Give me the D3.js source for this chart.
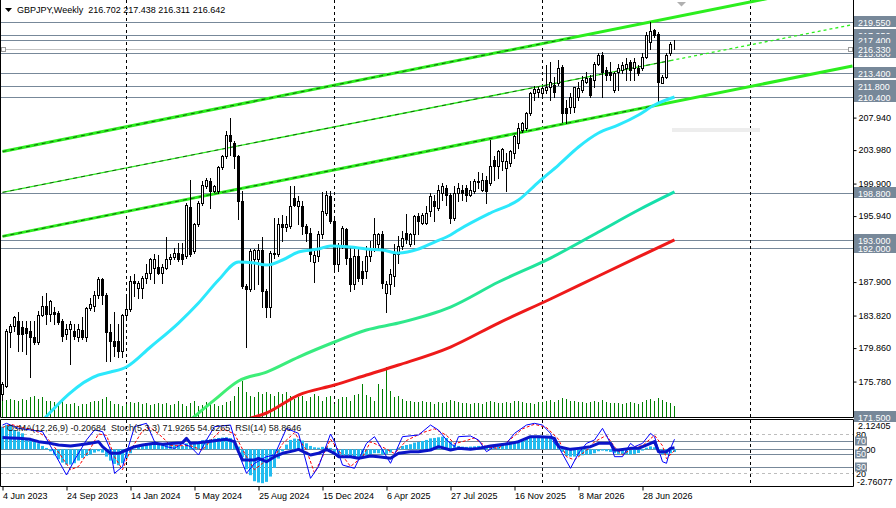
<!DOCTYPE html>
<html>
<head>
<meta charset="utf-8">
<title>GBPJPY,Weekly</title>
<script src="https://cdnjs.cloudflare.com/ajax/libs/d3/7.8.5/d3.min.js"></script>
<style>
  html, body { margin: 0; padding: 0; background: #fff; overflow: hidden; }
  svg { display: block; font-family: "Liberation Sans", Arial, sans-serif; }
</style>
</head>
<body>
<script>
// weekly candles, bar 0 = week of 4 Jun 2023
var opens = [
  174.21,175.30,181.77,182.58,183.19,182.38,182.30,181.98,181.17,180.56,
  183.92,185.01,184.00,184.20,184.08,183.19,181.57,182.18,181.98,181.17,
  182.06,181.17,184.73,185.01,186.34,188.25,186.34,181.77,180.76,180.76,
  179.55,183.92,184.61,188.04,187.23,187.15,188.37,189.06,189.66,189.74,
  189.06,189.66,190.67,190.96,191.48,191.28,191.08,197.02,191.68,194.92,
  197.55,199.57,200.18,198.96,198.96,201.88,203.21,205.84,204.83,203.21,
  197.75,187.44,187.03,190.67,190.67,191.76,186.83,184.81,191.48,191.28,
  195.00,194.60,194.72,198.16,197.14,197.14,194.72,193.91,190.39,191.08,
  193.71,196.34,198.36,195.32,190.07,192.29,194.39,190.88,187.64,191.08,
  189.26,189.26,191.08,192.09,192.49,193.71,186.63,187.64,188.65,191.28,
  192.29,193.91,192.49,193.71,195.93,195.12,195.12,196.54,197.75,196.94,
  198.76,199.37,198.56,195.73,198.76,199.16,199.37,198.56,198.96,200.05,
  199.16,200.38,199.97,202.80,202.00,202.60,201.79,202.40,203.61,204.83,
  206.44,206.65,208.47,210.89,211.10,210.89,211.30,211.62,211.91,212.11,
  214.13,209.07,209.28,209.28,210.49,211.30,212.31,212.71,212.51,214.53,
  215.55,213.73,213.52,211.30,213.52,213.73,213.93,214.74,213.93,213.93,
  213.93,215.34,217.20,218.58,218.18,212.11,212.92,215.75,216.702
];
var highs = [
  175.70,182.18,182.79,183.80,184.20,183.19,183.19,183.19,183.19,184.40,
  186.22,186.63,185.70,184.81,184.40,183.39,182.79,183.19,182.79,182.79,
  183.59,184.85,186.02,186.83,188.53,188.45,186.63,182.79,184.20,182.79,
  184.00,186.22,188.65,188.85,188.04,188.65,190.07,190.88,191.28,191.16,
  190.07,193.38,191.28,192.09,192.70,192.70,197.55,200.38,195.12,197.75,
  200.18,200.58,200.58,199.77,202.00,203.41,206.25,207.94,205.03,203.41,
  198.96,187.64,191.89,191.89,192.49,193.38,187.03,191.68,195.73,195.73,
  196.13,195.93,199.65,199.65,198.36,197.75,194.92,194.52,191.68,194.11,
  198.84,198.96,198.96,195.53,192.70,194.72,194.52,192.09,192.09,192.09,
  190.47,192.29,192.90,195.73,193.91,194.11,188.04,189.46,192.49,193.50,
  194.11,196.21,193.91,196.13,196.34,196.34,197.14,198.76,198.56,199.77,
  199.97,199.77,198.76,199.57,199.97,199.77,199.77,200.17,200.46,201.27,
  201.19,200.78,205.23,203.21,204.02,204.22,203.61,204.02,205.84,207.25,
  207.46,208.67,211.10,211.78,211.62,211.78,214.33,214.74,212.92,214.94,
  214.33,210.09,210.89,211.70,212.31,213.00,213.52,213.12,214.74,215.75,
  215.95,214.13,214.74,213.52,214.53,214.74,215.14,214.94,215.14,214.33,
  215.75,218.38,219.60,218.78,218.38,213.12,215.75,217.16,217.438
];
var lows = [
  173.48,175.10,179.95,181.98,179.55,179.55,179.14,176.31,180.36,180.36,
  183.80,182.79,183.19,182.79,182.79,180.76,180.96,177.93,180.96,180.76,
  180.96,180.76,184.48,184.40,186.02,185.21,178.34,178.34,178.94,178.74,
  178.74,183.59,184.40,186.22,186.02,186.02,187.84,188.25,187.84,188.93,
  187.84,189.50,190.07,190.67,190.47,190.07,190.88,191.08,191.48,194.72,
  197.35,199.37,196.94,198.90,198.76,201.72,203.01,203.41,201.80,195.53,
  187.23,179.95,186.83,187.03,187.64,184.81,183.59,183.59,190.88,191.08,
  192.90,194.11,194.52,197.14,194.92,193.71,192.90,190.47,187.96,190.47,
  193.30,196.13,195.12,189.26,189.26,192.09,190.07,186.83,187.03,188.04,
  187.64,188.45,190.47,191.68,192.09,187.23,184.20,186.43,187.44,190.27,
  191.89,192.70,192.29,192.49,193.71,194.92,194.92,195.93,195.32,196.74,
  197.95,197.34,195.12,195.52,197.75,197.95,197.75,198.35,198.76,199.37,
  198.96,197.55,199.77,200.38,200.58,201.59,198.96,202.00,203.01,204.22,
  206.24,206.44,208.27,210.09,210.49,210.69,210.89,210.09,210.49,211.91,
  207.46,207.25,208.47,208.67,210.09,211.10,212.11,210.49,211.70,214.33,
  210.49,212.51,212.51,211.10,211.30,213.32,212.51,212.51,212.51,213.12,
  213.73,215.14,216.35,217.77,209.88,212.11,212.71,215.55,216.311
];
var closes = [
  175.50,181.90,182.58,183.59,181.57,181.57,181.65,181.25,180.56,183.92,
  185.01,184.00,185.62,184.00,182.99,181.37,182.18,182.79,181.37,182.18,
  181.25,184.73,185.21,186.34,188.25,186.34,181.77,180.76,180.16,179.55,
  183.92,184.61,188.04,187.84,187.84,188.45,189.06,190.67,190.67,189.06,
  189.74,190.67,190.96,191.48,190.67,190.67,197.35,191.28,194.92,197.55,
  199.77,200.38,198.96,199.57,201.88,203.21,205.84,205.03,203.21,197.75,
  187.44,187.03,191.68,191.76,191.76,186.83,184.81,191.48,191.28,194.92,
  194.60,195.00,197.23,197.35,197.75,194.72,193.91,191.28,191.16,193.71,
  196.54,198.48,195.32,190.07,192.29,194.52,190.88,187.64,191.08,188.45,
  188.45,191.08,192.09,193.71,193.71,187.84,187.64,188.85,191.28,192.29,
  193.30,193.10,193.71,195.93,195.32,196.13,196.34,198.36,197.14,199.17,
  199.57,198.56,195.73,198.76,199.37,198.76,198.56,199.16,200.17,200.17,
  200.38,198.96,202.00,202.00,203.81,204.10,202.60,203.81,205.64,206.65,
  207.25,208.47,210.89,211.38,211.38,211.50,211.62,212.31,211.10,213.93,
  208.47,208.47,210.49,211.62,211.50,212.51,212.71,210.69,214.53,215.55,
  213.52,213.12,213.12,213.32,213.93,214.33,214.53,213.73,214.74,213.32,
  215.34,217.97,218.50,217.97,212.31,212.92,215.55,216.96,216.642
];
// tick volume, hundreds
var volumes = [
  177,167,177,167,160,177,167,193,210,177, 193,160,160,143,143,160,127,127,133,110,
  127,127,143,160,160,177,193,160,127,127, 110,127,143,133,143,127,133,120,127,133,
  127,133,120,127,153,127,110,133,153,110, 120,143,127,127,110,120,143,160,210,293,
  360,243,210,193,243,227,243,227,210,243, 227,243,210,177,193,210,160,193,227,210,
  160,193,210,127,177,193,200,160,220,227, 327,220,193,160,327,277,493,260,193,210,
  177,160,160,143,143,160,143,143,127,143, 140,150,170,160,150,140,135,130,140,135,
  130,150,160,145,140,135,150,140,155,160, 150,140,135,130,150,145,160,170,150,165,
  190,180,160,155,150,145,140,150,160,145, 165,150,140,135,140,130,135,145,140,130,
  150,170,175,160,190,165,150,140,110
];

// moving averages: [bar, price]
var maFast = [[9,170.5],[24,176.58],[27,176.94],[31,177.56],[37,179.99],[44,182.91],[49,185.35],
  [54,188.15],[59,190.35],[63,190.23],[66,189.98],[70,190.59],[74,191.57],[79,191.93],[82,192.30],
  [87,192.17],[91,191.93],[95,191.81],[99,191.44],[104,191.93],[108,192.78],[112,193.64],[114,194.25],
  [122,196.32],[129,197.90],[134,200.09],[139,202.16],[144,204.36],[149,206.06],[154,207.04],
  [159,208.26],[163,209.47],[168,210.45]];
var maMid = [[46,170.7],[53,173.54],[59,175.85],[66,176.94],[74,178.77],[83,180.60],[91,182.06],
  [99,182.91],[112,184.86],[124,187.91],[137,190.83],[149,194.00],[159,196.68],[168,198.88]];
var maSlow = [[61,171.2],[66,171.95],[74,174.14],[83,175.36],[91,176.58],[99,177.80],[112,179.99],
  [124,182.91],[137,185.84],[149,188.64],[159,190.96],[168,193.03]];

// channel lines: [bar0, price0, bar1, price1, dashed overlay until bar]
var channelUpper = [0, 203.80, 212.5, 224.52, 142];
var channelMid = [0, 198.83, 212.5, 219.26, 167];
var channelLower = [0, 193.47, 212.5, 214.23, 162];

// horizontal levels (label drawing order)
var levels = [171.5, 192.0, 193.0, 198.8, 210.4, 211.8, 213.4, 219.55, 217.95, 215.8, 217.4, 216.33];
var priceTicks = [175.78, 179.86, 183.82, 187.90, 191.86, 195.94, 199.90, 203.98, 207.94, 211.90, 215.98, 220.06];

var timeTicks = [0, 16, 32, 48, 64, 80, 96, 112, 128, 144, 160];
var timeLabels = ['4 Jun 2023', '24 Sep 2023', '14 Jan 2024', '5 May 2024', '25 Aug 2024', '15 Dec 2024',
  '6 Apr 2025', '27 Jul 2025', '16 Nov 2025', '8 Mar 2026', '28 Jun 2026'];
var yearStarts = [31, 83, 135, 187];

// OsMA(12,26,9) histogram, one value per bar
var osma = [
  1.70,1.83,1.75,1.45,1.33,1.20,0.83,0.70,0.58,0.45, 0.25,0.10,-0.15,-0.45,-0.75,-1.00,-1.15,-1.15,-1.05,-0.85,
  -0.65,-0.50,-0.40,-0.25,-0.15,-0.25,-0.55,-0.85,-1.10,-1.20, -1.05,-0.65,-0.30,0.05,0.20,0.30,0.40,0.48,0.45,0.40,
  0.38,0.35,0.32,0.30,0.28,0.25,0.45,0.55,0.55,0.60, 0.68,0.72,0.75,0.80,0.85,0.88,0.90,0.85,0.65,0.20,
  -0.60,-1.50,-1.95,-2.40,-2.50,-2.55,-2.45,-2.05,-1.40,-0.70, -0.15,0.35,0.70,0.80,0.78,0.65,0.45,0.25,0.15,0.12,
  0.18,0.20,0.10,-0.20,-0.35,-0.45,-0.50,-0.58,-0.60,-0.58, -0.55,-0.45,-0.38,-0.30,-0.30,-0.40,-0.35,-0.25,-0.05,0.12,
  0.25,0.32,0.38,0.50,0.55,0.62,0.70,0.82,0.85,0.90, 0.95,0.85,0.55,0.35,0.25,0.20,0.18,0.20,0.22,0.25,
  0.22,0.18,0.25,0.32,0.40,0.45,0.45,0.50,0.58,0.65, 0.75,0.85,0.95,1.00,1.02,1.00,0.95,0.90,0.75,0.45,
  -0.20,-0.50,-0.55,-0.55,-0.50,-0.45,-0.40,-0.40,-0.30,-0.15, -0.10,-0.15,-0.20,-0.30,-0.35,-0.35,-0.38,-0.40,-0.35,-0.28,
  -0.10,0.12,0.22,0.15,-0.20,-0.35,-0.35,-0.30,-0.21
];
var osmaRange = [-2.76077, 2.12405];

// Stoch(5,3,3) and RSI(14), [bar, value]
var stochMain = [[0,93.8],[1,96.4],[3,91.3],[4,88.7],[7,86.2],[10,83.6],[13,50.3],[16,16.9],[18,40.0],
  [21,70.8],[23,86.2],[25,83.6],[27,55.4],[28,19.5],[30,29.7],[33,91.3],[36,96.4],[38,68.2],[41,60.5],
  [43,57.9],[45,65.6],[47,60.5],[49,47.7],[51,70.8],[53,91.3],[57,93.8],[59,50.3],[61,19.5],[63,34.9],
  [66,45.1],[68,47.7],[71,88.7],[74,81.0],[77,11.8],[79,29.7],[82,80.0],[83,68.2],[85,32.3],[88,27.2],
  [91,65.6],[93,75.9],[97,34.9],[100,75.9],[104,78.5],[107,93.8],[109,86.0],[111,70.8],[113,60.5],
  [114,75.9],[117,76.9],[119,70.8],[121,52.8],[123,60.5],[126,65.6],[128,81.0],[131,93.8],[133,96.4],
  [135,93.8],[137,81.0],[138,65.6],[139,60.5],[142,27.2],[144,50.3],[146,65.6],[148,70.8],[150,88.7],
  [152,65.6],[153,45.1],[155,45.1],[157,65.6],[158,60.5],[160,65.6],[162,81.0],[163,75.9],[165,37.4],
  [166,34.9],[167,57.9],[168,71.9]];
var stochSignal = [[0,90],[2,95],[5,90],[8,86],[11,75],[14,52],[17,25],[19,30],[22,58],[24,80],[26,78],
  [28,45],[30,25],[32,55],[35,85],[37,90],[40,75],[42,62],[45,62],[47,62],[50,55],[52,70],[55,88],[58,80],
  [61,45],[63,25],[65,35],[68,45],[70,65],[73,82],[76,55],[78,20],[80,45],[82,72],[84,55],[87,30],[90,45],
  [92,68],[95,60],[98,50],[101,70],[105,82],[108,88],[111,78],[113,65],[116,70],[118,74],[121,60],[124,58],
  [127,72],[130,88],[133,95],[136,90],[139,72],[141,45],[143,40],[146,55],[148,68],[151,78],[153,60],
  [155,48],[158,60],[160,62],[163,78],[165,62],[166,42],[168,54.6]];
var rsi = [[0,74.5],[2,74.0],[4,73.3],[7,71.8],[9,68.2],[12,65.6],[14,63.1],[17,61.5],[19,63.1],[22,65.6],
  [24,68.2],[25,60.5],[27,50.3],[29,50.3],[31,55.4],[33,60.5],[35,63.1],[38,65.6],[40,64.1],[43,65.6],
  [45,66.7],[46,73.3],[47,65.6],[49,66.7],[53,69.7],[56,71.8],[58,68.2],[59,52.8],[60,40.0],[63,40.0],
  [64,42.6],[66,37.4],[68,45.1],[70,50.3],[73,54.4],[74,56.4],[77,47.7],[79,50.3],[81,56.4],[83,50.3],
  [84,45.1],[87,45.1],[89,42.6],[92,46.2],[94,45.1],[97,42.6],[99,50.3],[102,52.8],[104,52.8],[107,55.4],
  [109,60.5],[112,55.4],[114,57.9],[117,56.4],[119,57.9],[122,61.5],[124,63.1],[127,65.6],[129,68.2],
  [132,75.9],[134,75.9],[137,74.9],[138,73.3],[139,60.5],[142,56.4],[144,57.9],[147,60.5],[149,65.6],
  [152,65.6],[153,55.4],[154,55.4],[157,57.9],[159,57.9],[162,65.6],[163,68.2],[164,52.8],[166,52.8],
  [167,57.9],[168,58.9]];
var oscLevels = [80, 70, 50, 30, 20];

var headerText = 'GBPJPY,Weekly  216.702 217.438 216.311 216.642';
var oscText = 'OsMA(12,26,9) -0.20684  Stoch(5,3,3) 71.9265 54.6265  RSI(14) 58.8646';

// crisp 1px helpers
function snapX(v) { return Math.floor(v) + 0.5; }
function snapY(v) { return Math.round(v) + 0.5; }

function ready() {
  var W = 896, H = 508, right = 853;
  var svg = d3.select('body').append('svg').attr('width', W).attr('height', H);

  var x = d3.scaleLinear().domain([-0.625, 212.625]).range([0, right]);
  var y = d3.scaleLinear().domain([171.5, 219.55]).range([416.7, 22.3]);
  var yVol = d3.scaleLinear().domain([0, 1000]).range([416.5, 316.5]);
  var yPct = d3.scaleLinear().domain([0, 100]).range([486, 421]);
  var yOsma = d3.scaleLinear().domain(osmaRange).range([486, 421]);

  var defs = svg.append('defs');
  defs.append('clipPath').attr('id', 'clipMain')
    .append('rect').attr('x', 1).attr('y', 0).attr('width', right - 1).attr('height', 417);
  defs.append('clipPath').attr('id', 'clipOsc')
    .append('rect').attr('x', 1).attr('y', 420).attr('width', right - 1).attr('height', 66);
  var grad = defs.append('linearGradient').attr('id', 'gradMid')
    .attr('gradientUnits', 'userSpaceOnUse').attr('x1', 190).attr('x2', 680).attr('y1', 0).attr('y2', 0);
  grad.append('stop').attr('offset', 0).attr('stop-color', '#44f070');
  grad.append('stop').attr('offset', 1).attr('stop-color', '#12deae');

  // ---------- main window ----------
  var main = svg.append('g').attr('clip-path', 'url(#clipMain)');

  main.selectAll('line.level').data(levels).enter().append('line')
    .attr('x1', 0).attr('x2', right)
    .attr('y1', function(d) { return snapY(y(d)); })
    .attr('y2', function(d) { return snapY(y(d)); })
    .attr('stroke', function(d) { return d === 216.33 ? '#c4c4c4' : '#778899'; });

  // markers on the light line
  [1.5, 848.5].forEach(function(px) {
    main.append('rect').attr('x', px).attr('y', snapY(y(216.33)) - 2).attr('width', 4).attr('height', 4)
      .attr('fill', '#fff').attr('stroke', '#9a9a9a');
  });

  main.selectAll('line.sep').data(yearStarts).enter().append('line')
    .attr('x1', function(d) { return snapX(x(d)); }).attr('x2', function(d) { return snapX(x(d)); })
    .attr('y1', 0).attr('y2', 417)
    .attr('stroke', '#000').attr('stroke-dasharray', '3,3');

  // faint strip right of last bar
  main.append('rect').attr('x', 672).attr('y', 128).attr('width', 88).attr('height', 4).attr('fill', '#ededed');

  // volumes
  main.selectAll('line.vol').data(volumes).enter().append('line')
    .attr('x1', function(d, i) { return snapX(x(i)); }).attr('x2', function(d, i) { return snapX(x(i)); })
    .attr('y1', 417).attr('y2', function(d) { return Math.round(yVol(d)); })
    .attr('stroke', '#008000');

  // channel
  var seg = d3.line().x(function(d) { return x(d[0]); }).y(function(d) { return y(d[1]); });
  var green = '#2cee1e';
  function channel(c, w, tail) {
    var p0 = [c[0], c[1]], p1 = [c[2], c[3]];
    var slope = (c[3] - c[1]) / (c[2] - c[0]);
    var pe = [c[4], c[1] + slope * (c[4] - c[0])];
    if (tail) {
      main.append('path').attr('d', seg([p0, pe])).attr('fill', 'none').attr('stroke', green).attr('stroke-width', w);
      main.append('path').attr('d', seg([pe, p1])).attr('fill', 'none').attr('stroke', green)
        .attr('stroke-width', w).attr('stroke-dasharray', '3,3');
    } else {
      main.append('path').attr('d', seg([p0, p1])).attr('fill', 'none').attr('stroke', green).attr('stroke-width', w);
    }
    main.append('path').attr('d', seg([p0, pe])).attr('fill', 'none').attr('stroke', '#000')
      .attr('stroke-width', 0.8).attr('stroke-dasharray', '4,4').attr('opacity', 0.75);
  }
  channel(channelUpper, 3, false);
  channel(channelMid, 1.3, true);
  channel(channelLower, 3, false);

  // candles
  var candle = main.selectAll('g.candle').data(opens).enter().append('g');
  candle.append('line')
    .attr('x1', function(d, i) { return snapX(x(i)); }).attr('x2', function(d, i) { return snapX(x(i)); })
    .attr('y1', function(d, i) { return Math.round(y(highs[i])); })
    .attr('y2', function(d, i) { return Math.round(y(lows[i])) + 1; })
    .attr('stroke', '#000');
  candle.append('rect')
    .attr('x', function(d, i) { return snapX(x(i)) - 1; })
    .attr('width', 2)
    .attr('y', function(d, i) { return Math.round(y(Math.max(d, closes[i]))) + 0.5; })
    .attr('height', function(d, i) {
      return Math.max(0, Math.round(y(Math.min(d, closes[i]))) - Math.round(y(Math.max(d, closes[i]))));
    })
    .attr('fill', function(d, i) { return closes[i] >= d ? '#fff' : '#000'; })
    .attr('stroke', '#000');

  // moving averages
  var maLine = d3.line().x(function(d) { return x(d[0]); }).y(function(d) { return y(d[1]); }).curve(d3.curveMonotoneX);
  main.append('path').attr('d', maLine(maSlow)).attr('fill', 'none').attr('stroke', '#ee1a1a').attr('stroke-width', 3);
  main.append('path').attr('d', maLine(maMid)).attr('fill', 'none').attr('stroke', 'url(#gradMid)').attr('stroke-width', 3);
  main.append('path').attr('d', maLine(maFast)).attr('fill', 'none').attr('stroke', '#2ce8fc').attr('stroke-width', 3);

  // chart shift marker
  svg.append('path').attr('d', 'M677,2L686,2L681.5,6.5Z').attr('fill', '#b0b0b0');

  // header
  svg.append('path').attr('d', 'M5,8L12,8L8.5,12Z').attr('fill', '#000');
  svg.append('text').attr('x', 17).attr('y', 13).attr('font-size', 9).style('white-space', 'pre')
    .text(headerText);

  // ---------- oscillator window ----------
  var osc = svg.append('g').attr('clip-path', 'url(#clipOsc)');

  osc.selectAll('line.olevel').data(oscLevels).enter().append('line')
    .attr('x1', 0).attr('x2', right)
    .attr('y1', function(d) { return snapY(yPct(d)); }).attr('y2', function(d) { return snapY(yPct(d)); })
    .attr('stroke', function(d) { return (d === 80 || d === 20) ? '#bdbdbd' : '#778899'; })
    .attr('stroke-dasharray', function(d) { return (d === 80 || d === 20) ? '3,3' : null; });
  osc.append('line').attr('x1', 0).attr('x2', right)
    .attr('y1', snapY(yOsma(0))).attr('y2', snapY(yOsma(0))).attr('stroke', '#778899');

  osc.selectAll('line.sep').data(yearStarts).enter().append('line')
    .attr('x1', function(d) { return snapX(x(d)); }).attr('x2', function(d) { return snapX(x(d)); })
    .attr('y1', 420).attr('y2', 486)
    .attr('stroke', '#000').attr('stroke-dasharray', '3,3');

  osc.selectAll('rect.osma').data(osma).enter().append('rect')
    .attr('x', function(d, i) { return Math.floor(x(i)) - 1; })
    .attr('width', 3)
    .attr('y', function(d) { return Math.min(yOsma(d), yOsma(0)); })
    .attr('height', function(d) { return Math.abs(yOsma(d) - yOsma(0)); })
    .attr('fill', '#22bcf0');

  var pctLine = d3.line().x(function(d) { return x(d[0]); }).y(function(d) { return yPct(d[1]); });
  osc.append('path').attr('d', pctLine(stochSignal)).attr('fill', 'none').attr('stroke', '#ff0000')
    .attr('stroke-width', 1).attr('stroke-dasharray', '3,2');
  osc.append('path').attr('d', pctLine(stochMain)).attr('fill', 'none').attr('stroke', '#0000ff').attr('stroke-width', 1);
  osc.append('path').attr('d', pctLine(rsi)).attr('fill', 'none').attr('stroke', '#0a14c8').attr('stroke-width', 3)
    .attr('stroke-linejoin', 'round');

  svg.append('text').attr('x', 7).attr('y', 431).attr('font-size', 9).attr('fill', '#111')
    .style('white-space', 'pre').text(oscText);

  // ---------- frames ----------
  var frame = svg.append('g').attr('fill', 'none').attr('stroke', '#000');
  frame.append('path').attr('d', 'M0.5,0V417.5H' + (right + 0.5) + 'V0');
  frame.append('path').attr('d', 'M0.5,419.5H' + (right + 0.5) + 'V486.5H0.5Z');

  // ---------- axes ----------
  var yAxis = d3.axisRight(y).tickValues(priceTicks).tickSize(3).tickPadding(2).tickFormat(d3.format('.3f'));
  var gy = svg.append('g').attr('transform', 'translate(' + (right + 0.5) + ',0)').call(yAxis);
  gy.attr('font-size', 9).attr('font-family', null);
  gy.select('.domain').remove();
  gy.selectAll('text').attr('fill', '#000');

  var xAxis = d3.axisBottom(x).tickValues(timeTicks).tickSize(4)
    .tickFormat(function(d, k) { return timeLabels[k]; });
  var gx = svg.append('g').attr('transform', 'translate(0,486.5)').call(xAxis);
  gx.attr('font-size', 9).attr('font-family', null);
  gx.select('.domain').remove();
  gx.selectAll('text').attr('text-anchor', 'start').attr('x', 0).attr('y', 6).attr('fill', '#000');

  // level price boxes
  var box = svg.selectAll('g.lbl').data(levels).enter().append('g');
  box.append('rect').attr('x', 854).attr('width', 42).attr('height', 11)
    .attr('y', function(d) { return Math.round(y(d)) - 6; })
    .attr('fill', '#778899');
  box.append('text').attr('x', 858).attr('font-size', 9).attr('fill', '#fff')
    .attr('y', function(d) { return Math.round(y(d)) + 3.5; })
    .text(function(d) { return d.toFixed(3); });

  // oscillator scale labels
  var ol = svg.append('g').attr('font-size', 9).attr('fill', '#000');
  ol.append('text').attr('x', 858).attr('y', yOsma(osmaRange[1]) + 8).text(osmaRange[1].toFixed(5));
  ol.append('text').attr('x', 857).attr('y', yOsma(osmaRange[0]) - 1.5).text(osmaRange[0].toFixed(5));
  ol.append('text').attr('x', 858).attr('y', yOsma(0) + 3.5).text('0.00');
  [80, 20].forEach(function(v) {
    ol.append('text').attr('x', 856).attr('y', yPct(v) + 3.5).text(v);
  });
  [70, 50, 30].forEach(function(v) {
    ol.append('rect').attr('x', 855).attr('y', Math.round(yPct(v)) - 4.5).attr('width', 12).attr('height', 9)
      .attr('fill', '#778899');
    ol.append('text').attr('x', 856).attr('y', yPct(v) + 3.5).attr('fill', '#fff').text(v);
  });
}

ready();
</script>
</body>
</html>
